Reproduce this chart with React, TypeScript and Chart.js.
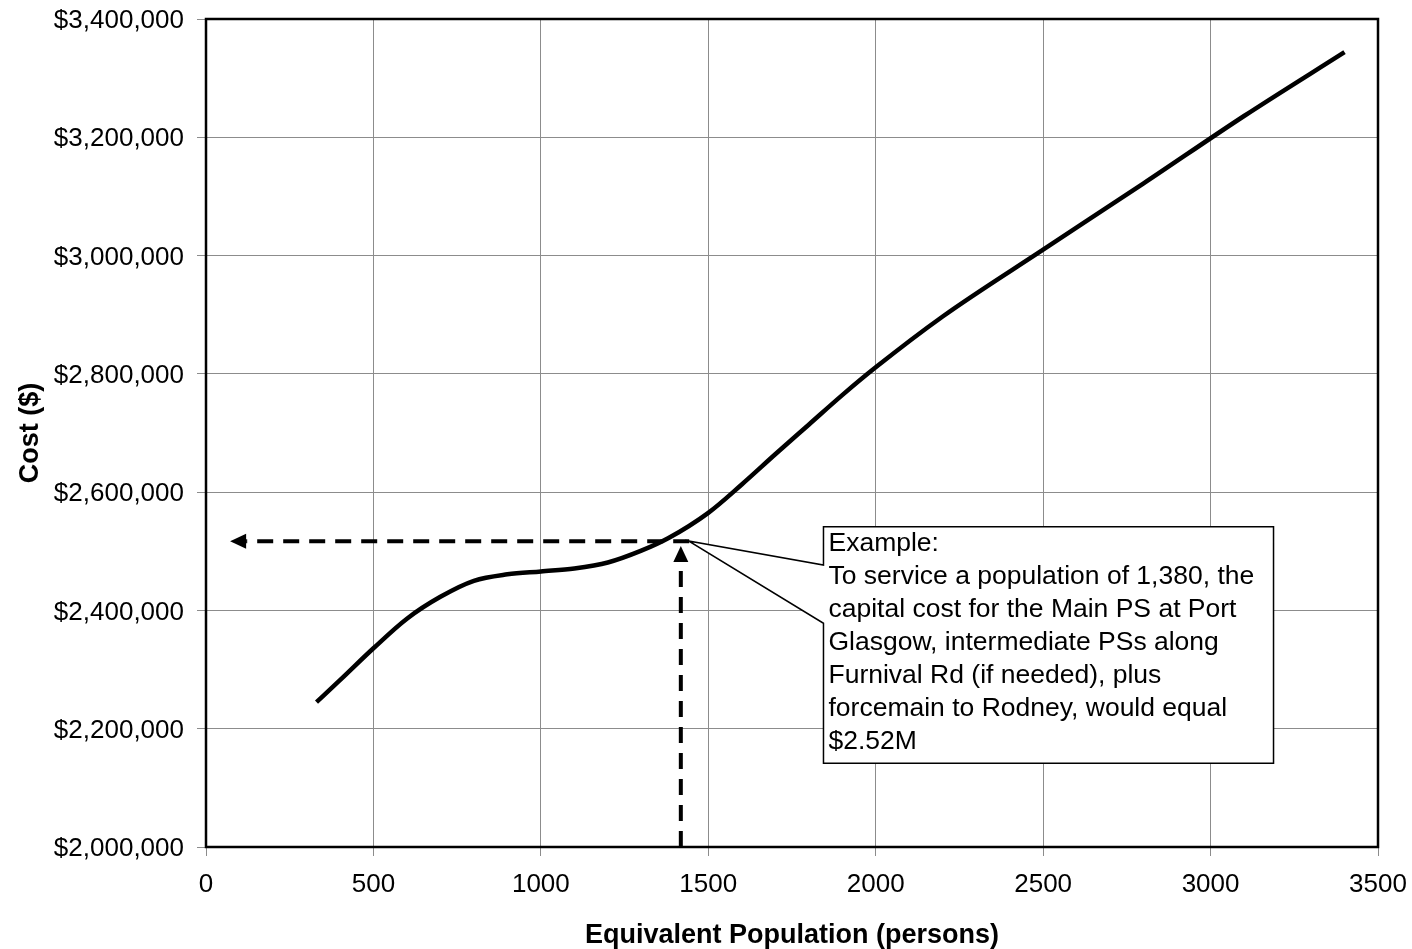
import React, { useEffect, useRef } from 'react';
import { Chart, registerables } from 'chart.js';

Chart.register(...registerables);

// ---- Data ----
const population = [330, 400, 500, 600, 700, 800, 900, 1000, 1100, 1200, 1300, 1380, 1500, 1600, 1700, 1800, 1900, 2000, 2200, 2500, 2800, 3100, 3400];
const cost = [2245000, 2282000, 2336000, 2386000, 2423000, 2450000, 2461000, 2466000, 2471000, 2481000, 2501000, 2522000, 2565000, 2613000, 2664000, 2714000, 2764000, 2811000, 2897000, 3010000, 3122000, 3236000, 3344000];

const xTickValues = [0, 500, 1000, 1500, 2000, 2500, 3000, 3500];
const yTickValues = [2000000, 2200000, 2400000, 2600000, 2800000, 3000000, 3200000, 3400000];

const xTitle = 'Equivalent Population (persons)';
const yTitle = 'Cost ($)';

// Example read-off (data units)
const exampleX = [1418];
const exampleY = [2517000];
const arrowLeftX = [72];
const hLineRightX = [1443];
const vArrowTipY = [2509000];

// Callout (data units)
const calloutBoxX = [1844, 3188];
const calloutBoxY = [2141500, 2541600];
const calloutNotchY = [2476800, 2378300];
const calloutTip = [1441, 2517400];
const calloutLines = [
  'Example:',
  'To service a population of 1,380, the',
  'capital cost for the Main PS at Port',
  'Glasgow, intermediate PSs along',
  'Furnival Rd (if needed), plus',
  'forcemain to Rodney, would equal',
  '$2.52M',
];

const FONT = 'Liberation Sans, Arial, Helvetica, sans-serif';

const annotationPlugin = {
  id: 'exampleAnnotation',
  afterDatasetsDraw(chart: any) {
    const { ctx, chartArea, scales } = chart;
    const xs = scales.x;
    const ys = scales.y;
    ctx.save();

    // Dashed read-off lines
    const ax = xs.getPixelForValue(exampleX[0]);
    const ay = ys.getPixelForValue(exampleY[0]);
    const leftTip = xs.getPixelForValue(arrowLeftX[0]);
    const rightEnd = xs.getPixelForValue(hLineRightX[0]);
    const topTip = ys.getPixelForValue(vArrowTipY[0]);
    const head = 16;
    const half = 7.5;

    ctx.strokeStyle = '#000';
    ctx.fillStyle = '#000';
    ctx.lineWidth = 4;
    ctx.setLineDash([16, 10]);
    ctx.beginPath();
    ctx.moveTo(rightEnd, ay);
    ctx.lineTo(leftTip + head, ay);
    ctx.stroke();
    ctx.beginPath();
    ctx.moveTo(ax, chartArea.bottom);
    ctx.lineTo(ax, topTip + head);
    ctx.stroke();
    ctx.setLineDash([]);

    ctx.beginPath();
    ctx.moveTo(leftTip, ay);
    ctx.lineTo(leftTip + head, ay - half);
    ctx.lineTo(leftTip + head, ay + half);
    ctx.closePath();
    ctx.fill();

    ctx.beginPath();
    ctx.moveTo(ax, topTip);
    ctx.lineTo(ax - half, topTip + head);
    ctx.lineTo(ax + half, topTip + head);
    ctx.closePath();
    ctx.fill();

    // Callout
    const bl = xs.getPixelForValue(calloutBoxX[0]);
    const br = xs.getPixelForValue(calloutBoxX[1]);
    const bb = ys.getPixelForValue(calloutBoxY[0]);
    const bt = ys.getPixelForValue(calloutBoxY[1]);
    const n1 = ys.getPixelForValue(calloutNotchY[0]);
    const n2 = ys.getPixelForValue(calloutNotchY[1]);
    const tx = xs.getPixelForValue(calloutTip[0]);
    const ty = ys.getPixelForValue(calloutTip[1]);

    ctx.beginPath();
    ctx.moveTo(bl, bt);
    ctx.lineTo(br, bt);
    ctx.lineTo(br, bb);
    ctx.lineTo(bl, bb);
    ctx.lineTo(bl, n2);
    ctx.lineTo(tx, ty);
    ctx.lineTo(bl, n1);
    ctx.closePath();
    ctx.fillStyle = '#fff';
    ctx.fill();
    ctx.lineWidth = 1.5;
    ctx.strokeStyle = '#000';
    ctx.stroke();

    ctx.fillStyle = '#000';
    ctx.font = `26.5px ${FONT}`;
    ctx.textAlign = 'left';
    ctx.textBaseline = 'alphabetic';
    calloutLines.forEach((line, i) => {
      ctx.fillText(line, bl + 5, bt + 24.5 + i * 32.9);
    });

    // Plot frame
    ctx.lineWidth = 2.5;
    ctx.strokeStyle = '#000';
    ctx.strokeRect(chartArea.left, chartArea.top, chartArea.right - chartArea.left, chartArea.bottom - chartArea.top);

    ctx.restore();
  },
};

export default function App() {
  const canvasRef = useRef<HTMLCanvasElement | null>(null);

  useEffect(() => {
    document.body.style.margin = '0';
    const canvas = canvasRef.current;
    if (!canvas) return;
    Chart.defaults.font.family = FONT;
    Chart.defaults.color = '#000';

    const zeroPad = (scale: any) => {
      scale.paddingLeft = 0;
      scale.paddingRight = 0;
      scale.paddingTop = 0;
      scale.paddingBottom = 0;
    };

    const chart = new Chart(canvas, {
      type: 'line',
      data: {
        datasets: [
          {
            data: population.map((p, i) => ({ x: p, y: cost[i] })),
            borderColor: '#000',
            borderWidth: 4.5,
            pointRadius: 0,
            cubicInterpolationMode: 'monotone',
            fill: false,
          },
        ],
      },
      options: {
        animation: false,
        responsive: false,
        devicePixelRatio: 1,
        layout: { padding: { top: 19, right: 34, bottom: 0, left: 0 } },
        plugins: {
          legend: { display: false },
          tooltip: { enabled: false },
        },
        scales: {
          x: {
            type: 'linear',
            min: 0,
            max: 3500,
            afterBuildTicks: (scale: any) => {
              scale.ticks = xTickValues.map((v) => ({ value: v }));
            },
            afterFit: (scale: any) => {
              scale.height = 102;
              zeroPad(scale);
            },
            ticks: {
              font: { size: 26 },
              color: '#000',
              padding: 13,
              maxRotation: 0,
              autoSkip: false,
              callback: (v: any) => String(v),
            },
            grid: { color: '#8c8c8c', lineWidth: 1, tickLength: 9, tickColor: '#8c8c8c' },
            border: { display: false },
            title: {
              display: true,
              text: xTitle,
              font: { size: 27, weight: 'bold', lineHeight: 1 },
              color: '#000',
              padding: { top: 0, bottom: 0 },
            },
          },
          y: {
            type: 'linear',
            min: 2000000,
            max: 3400000,
            afterBuildTicks: (scale: any) => {
              scale.ticks = yTickValues.map((v) => ({ value: v }));
            },
            afterFit: (scale: any) => {
              scale.width = 206;
              zeroPad(scale);
            },
            ticks: {
              font: { size: 26 },
              color: '#000',
              padding: 13,
              labelOffset: 2,
              autoSkip: false,
              callback: (v: any) => '$' + Number(v).toLocaleString('en-US'),
            },
            grid: { color: '#8c8c8c', lineWidth: 1, tickLength: 9, tickColor: '#8c8c8c' },
            border: { display: false },
            title: {
              display: true,
              text: yTitle,
              font: { size: 27, weight: 'bold' },
              color: '#000',
              padding: { top: 14, bottom: 0 },
            },
          },
        },
      },
      plugins: [annotationPlugin],
    } as any);

    return () => chart.destroy();
  }, []);

  return (
    <div style={{ position: 'absolute', left: 0, top: 0, width: 1412, height: 949 }}>
      <canvas ref={canvasRef} width={1412} height={949} />
    </div>
  );
}
